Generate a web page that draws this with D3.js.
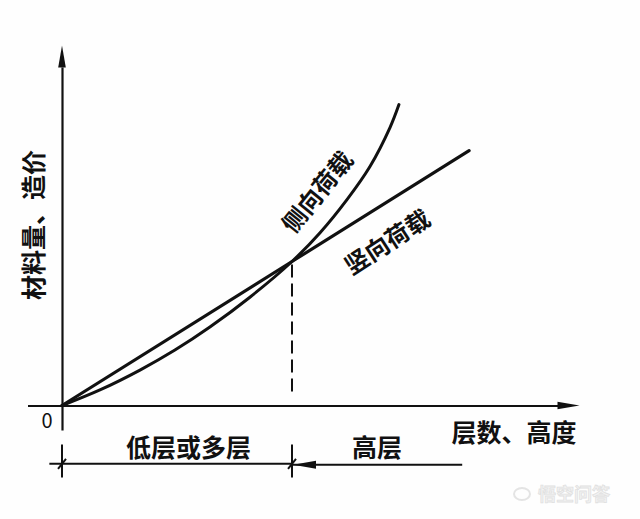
<!DOCTYPE html>
<html>
<head>
<meta charset="utf-8">
<script src="https://cdn.jsdelivr.net/npm/d3@7"></script>
<style>
  html, body { margin: 0; padding: 0; background: #ffffff; }
  svg { display: block; }
  text { font-family: "Noto Sans CJK SC", "Noto Sans", sans-serif; fill: #111; }
</style>
</head>
<body>
<svg id="chart" width="640" height="519"></svg>
<script>
// ---- data ----
// lateral-load curve (侧向荷载): x = floors/height, y = material / cost
const lateralX = [0, 1.65, 3.39, 4.91, 6.43, 8.17, 10, 11.22, 12.39, 13.39, 14.26, 14.65];
const lateralY = [0, 1.08, 2.46, 3.85, 5.45, 7.52, 10, 12.0, 14.3, 16.6, 19.3, 20.9];
// vertical-load line (竖向荷载)
const verticalX = [0, 10, 17.7];
const verticalY = [0, 10, 17.7];
// threshold between low/multi-storey and high-rise
const threshold = 10;
// labels
const seriesLabels = ["侧向荷载", "竖向荷载"];
const regionLabels = ["低层或多层", "高层"];
const regionFrom = [0, 10];
const regionTo = [10, 17.4];
const regionLabelX = [5.5, 13.7];
const xAxisLabel = "层数、高度";
const yAxisLabel = "材料量、造价";
const originLabel = "0";

// ---- scales ----
const x = d3.scaleLinear().domain([0, 22.5]).range([62, 579.5]);
const y = d3.scaleLinear().domain([0, 25]).range([405.5, 45.5]);

const svg = d3.select("#chart");
svg.append("rect").attr("width", 640).attr("height", 519).attr("fill", "#fefefe");

const ink = "#111";

// ---- axes (domain lines only) ----
const xAxisScale = d3.scaleLinear().domain([-1.5, 21.6]).range([x(-1.5), x(21.6)]);
const yAxisScale = d3.scaleLinear().domain([-1.7, 23.5]).range([y(-1.7), y(23.5)]);

const gx = svg.append("g").attr("transform", `translate(0,${y(0)})`)
  .call(d3.axisBottom(xAxisScale).tickValues([]).tickSizeOuter(0));
const gy = svg.append("g").attr("transform", `translate(${x(0)},0)`)
  .call(d3.axisLeft(yAxisScale).tickValues([]).tickSizeOuter(0));
[gx, gy].forEach(g => g.select(".domain").attr("stroke", ink).attr("stroke-width", 2.2));

// arrowheads
const xTip = x(22.5), yTip = y(25.0);
svg.append("path")
  .attr("d", `M${xTip},${y(0)} L${xTip - 22},${y(0) - 3.8} L${xTip - 22},${y(0) + 3.8} Z`)
  .attr("fill", ink);
svg.append("path")
  .attr("d", `M${x(0)},${yTip} L${x(0) - 3.8},${yTip + 22} L${x(0) + 3.8},${yTip + 22} Z`)
  .attr("fill", ink);

// ---- series ----
const lineGen = d3.line().x(d => x(d[0])).y(d => y(d[1])).curve(d3.curveCatmullRom.alpha(0.5));

svg.append("path")
  .datum(verticalX.map((v, i) => [v, verticalY[i]]))
  .attr("d", d3.line().x(d => x(d[0])).y(d => y(d[1])))
  .attr("fill", "none").attr("stroke", ink).attr("stroke-width", 3.2)
  .attr("stroke-linecap", "round");

svg.append("path")
  .datum(lateralX.map((v, i) => [v, lateralY[i]]))
  .attr("d", lineGen)
  .attr("fill", "none").attr("stroke", ink).attr("stroke-width", 3)
  .attr("stroke-linecap", "round");

// dashed threshold line
svg.append("line")
  .attr("x1", x(threshold)).attr("x2", x(threshold))
  .attr("y1", y(threshold) + 3).attr("y2", y(0.55))
  .attr("stroke", ink).attr("stroke-width", 2)
  .attr("stroke-dasharray", "13,6");

// ---- series labels ----
svg.append("text")
  .attr("transform", `translate(${x(11.05)},${y(14.9)}) rotate(-51)`)
  .attr("text-anchor", "middle").attr("dominant-baseline", "central")
  .attr("font-size", 24).attr("font-weight", "bold")
  .text(seriesLabels[0]);
svg.append("text")
  .attr("transform", `translate(${x(14.1)},${y(11.45)}) rotate(-33)`)
  .attr("text-anchor", "middle").attr("dominant-baseline", "central")
  .attr("font-size", 24).attr("font-weight", "bold")
  .text(seriesLabels[1]);

// ---- axis labels ----
svg.append("text")
  .attr("x", 47).attr("y", 428)
  .attr("text-anchor", "middle")
  .attr("font-family", "Liberation Sans, Arial, sans-serif")
  .attr("font-size", 20)
  .text(originLabel);

svg.append("text")
  .attr("x", 514).attr("y", 442)
  .attr("text-anchor", "middle")
  .attr("font-size", 25).attr("font-weight", "bold")
  .text(xAxisLabel);

svg.append("text")
  .attr("transform", `translate(32,225) rotate(-90)`)
  .attr("text-anchor", "middle").attr("dominant-baseline", "central")
  .attr("font-size", 25).attr("font-weight", "bold")
  .text(yAxisLabel);

// ---- region dimension lines ----
const dimY = y(-4.05);
const tickTop = y(-2.7), tickBot = y(-5.0);

// left segment
svg.append("line")
  .attr("x1", x(-0.55)).attr("x2", x(regionTo[0]))
  .attr("y1", dimY).attr("y2", dimY)
  .attr("stroke", ink).attr("stroke-width", 2);
// right segment
svg.append("line")
  .attr("x1", x(regionFrom[1])).attr("x2", x(regionTo[1]))
  .attr("y1", dimY + 1).attr("y2", dimY + 1)
  .attr("stroke", ink).attr("stroke-width", 2);
// arrowhead of high-rise segment (pointing left to threshold)
svg.append("path")
  .attr("d", `M${x(threshold) + 1},${dimY + 1} L${x(threshold) + 24},${dimY - 3} L${x(threshold) + 24},${dimY + 5} Z`)
  .attr("fill", ink);

// vertical ticks + small slashes
[regionFrom[0], threshold].forEach(v => {
  svg.append("line")
    .attr("x1", x(v)).attr("x2", x(v))
    .attr("y1", tickTop).attr("y2", tickBot)
    .attr("stroke", ink).attr("stroke-width", 2);
  svg.append("line")
    .attr("x1", x(v) - 4).attr("x2", x(v) + 4)
    .attr("y1", dimY + 5).attr("y2", dimY - 5)
    .attr("stroke", ink).attr("stroke-width", 2);
});

// region labels
regionLabels.forEach((lab, i) => {
  svg.append("text")
    .attr("x", x(regionLabelX[i])).attr("y", 457)
    .attr("text-anchor", "middle")
    .attr("font-size", 25).attr("font-weight", "bold")
    .text(lab);
});

// ---- faint watermark ----
const wm = svg.append("g").attr("opacity", 0.9);
wm.append("ellipse").attr("cx", 522).attr("cy", 494).attr("rx", 8).attr("ry", 6)
  .attr("fill", "none").attr("stroke", "#e2e2e2").attr("stroke-width", 2);
wm.append("text").attr("x", 538).attr("y", 501)
  .attr("font-size", 18).attr("font-weight", "bold")
  .style("fill", "#f2f2f2").attr("stroke", "#dedede").attr("stroke-width", 0.8)
  .text("悟空问答");
</script>
</body>
</html>
